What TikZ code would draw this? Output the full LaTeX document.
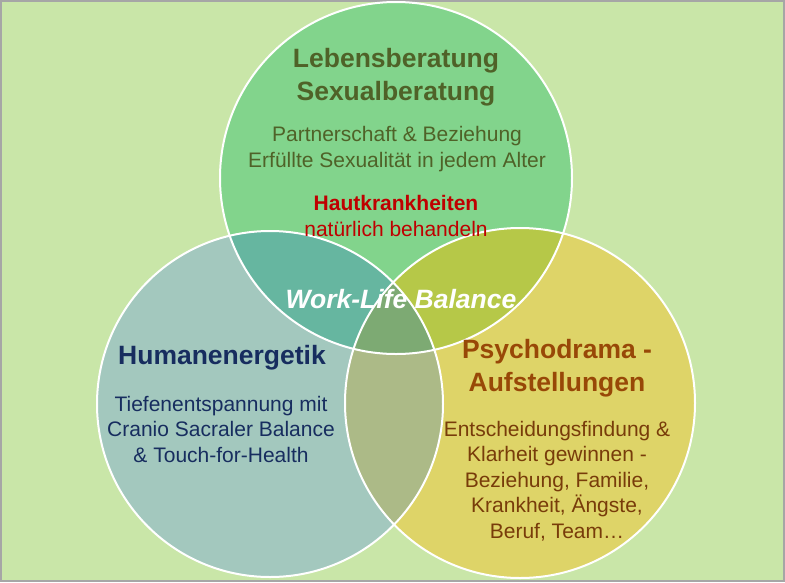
\documentclass[tikz,border=0pt]{standalone}
\usepackage{fontspec}
\setmainfont{Liberation Sans}
\definecolor{bg}{RGB}{201,230,168}
\definecolor{ctop}{RGB}{130,212,140}
\definecolor{cleft}{RGB}{163,200,190}
\definecolor{cright}{RGB}{222,212,104}
\definecolor{otl}{RGB}{102,182,160}
\definecolor{otr}{RGB}{182,200,72}
\definecolor{olr}{RGB}{172,186,135}
\definecolor{oall}{RGB}{125,170,115}
\definecolor{ttop}{RGB}{79,98,40}
\definecolor{tleft}{RGB}{23,45,95}
\definecolor{tright}{RGB}{152,72,7}
\definecolor{sright}{RGB}{120,60,10}
\begin{document}
\begin{tikzpicture}[x=1pt,y=-1pt,
  title/.style={font=\bfseries\fontsize{26.5}{33}\selectfont,align=center},
  sub/.style={font=\fontsize{21}{25.5}\selectfont,align=center},
  ring/.style={draw=white,line width=2pt}]
\useasboundingbox (0,0) rectangle (785,582);
\fill[bg] (0,0) rectangle (785,582);
\draw[gray!70,line width=1.5pt] (1,1) rectangle (784,581);
\def\T{(396,178) circle (176)}
\def\L{(270,404) circle (173)}
\def\R{(520,403) circle (175)}
\fill[ctop] \T; \fill[cleft] \L; \fill[cright] \R;
\begin{scope}\clip \T; \fill[otl] \L; \fill[otr] \R; \end{scope}
\begin{scope}\clip \L; \fill[olr] \R; \end{scope}
\begin{scope}\clip \T; \clip \L; \fill[oall] \R; \end{scope}
\draw[ring] \T; \draw[ring] \L; \draw[ring] \R;
\node[title,text=ttop] (t1) at (396,77) {Lebensberatung\\Sexualberatung};
\node[sub,text=ttop] (t2) at (397,149) {Partnerschaft \& Beziehung\\Erfüllte Sexualität in jedem Alter};
\node[sub,text=red!75!black] (t3) at (396,216) {\textbf{Hautkrankheiten}\\natürlich behandeln};
\node[font=\bfseries\itshape\fontsize{26.5}{30}\selectfont,text=white] (w) at (401,299) {Work-Life Balance};
\node[title,text=tleft] (l1) at (222,358) {Humanenergetik};
\node[sub,text=tleft] (l2) at (221,429) {Tiefenentspannung mit\\Cranio Sacraler Balance\\\& Touch-for-Health};
\node[title,text=tright] (r1) at (557,368) {Psychodrama -\\Aufstellungen};
\node[sub,text=sright] (r2) at (557,481) {Entscheidungsfindung \&\\Klarheit gewinnen -\\Beziehung, Familie,\\Krankheit, Ängste,\\Beruf, Team…};
\end{tikzpicture}
\end{document}
